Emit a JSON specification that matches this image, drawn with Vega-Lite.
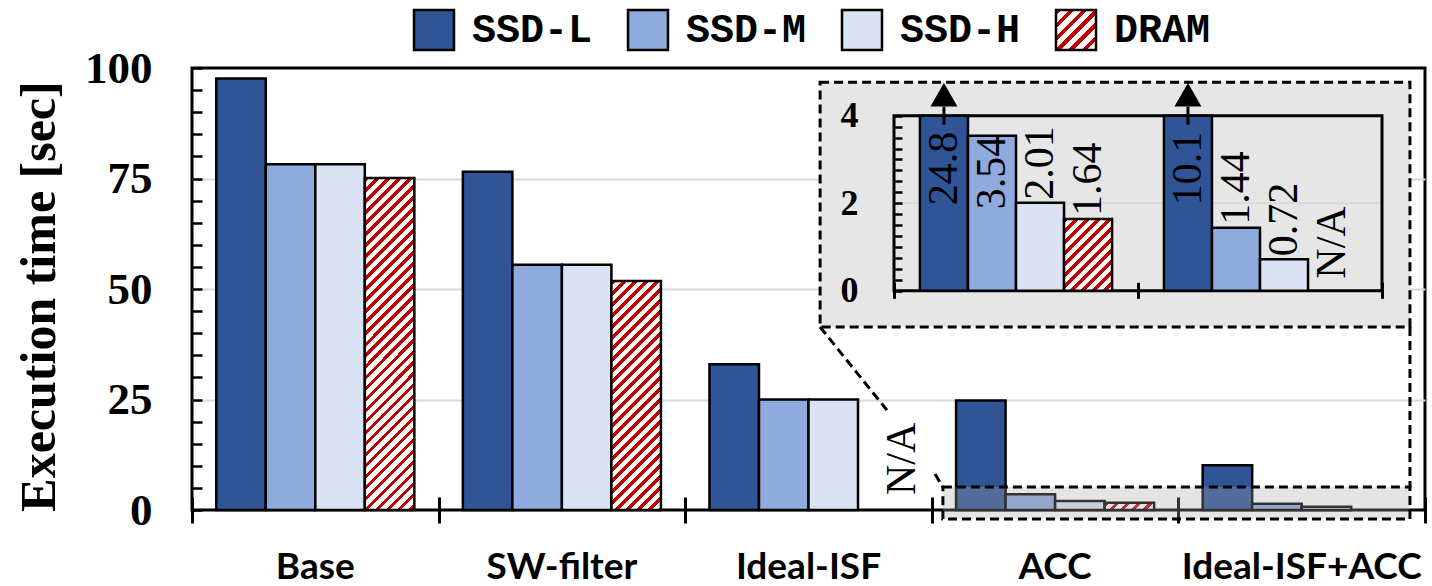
{
  "$schema": "https://vega.github.io/schema/vega-lite/v6.json",
  "width": 1233,
  "height": 442,
  "autosize": {"type": "none"},
  "padding": {"left": 192, "top": 68, "right": 7, "bottom": 76},
  "background": "white",
  "config": {"view": {"stroke": "black", "strokeWidth": 3}},
  "data": {"values": [
    {"group": "Base", "series": "SSD-L", "value": 97.6},
    {"group": "Base", "series": "SSD-M", "value": 78.2},
    {"group": "Base", "series": "SSD-H", "value": 78.2},
    {"group": "Base", "series": "DRAM", "value": 75.1},
    {"group": "SW-filter", "series": "SSD-L", "value": 76.5},
    {"group": "SW-filter", "series": "SSD-M", "value": 55.5},
    {"group": "SW-filter", "series": "SSD-H", "value": 55.5},
    {"group": "SW-filter", "series": "DRAM", "value": 51.8},
    {"group": "Ideal-ISF", "series": "SSD-L", "value": 33.0},
    {"group": "Ideal-ISF", "series": "SSD-M", "value": 25.0},
    {"group": "Ideal-ISF", "series": "SSD-H", "value": 25.0},
    {"group": "Ideal-ISF", "series": "DRAM", "value": null},
    {"group": "ACC", "series": "SSD-L", "value": 24.8},
    {"group": "ACC", "series": "SSD-M", "value": 3.54},
    {"group": "ACC", "series": "SSD-H", "value": 2.01},
    {"group": "ACC", "series": "DRAM", "value": 1.64},
    {"group": "Ideal-ISF+ACC", "series": "SSD-L", "value": 10.1},
    {"group": "Ideal-ISF+ACC", "series": "SSD-M", "value": 1.44},
    {"group": "Ideal-ISF+ACC", "series": "SSD-H", "value": 0.72},
    {"group": "Ideal-ISF+ACC", "series": "DRAM", "value": null}
  ]},
  "layer": [
    {
      "encoding": {
        "x": {"field": "group", "type": "nominal", "title": null,
          "scale": {"domain": ["Base", "SW-filter", "Ideal-ISF", "ACC", "Ideal-ISF+ACC"], "paddingInner": 0, "paddingOuter": 0},
          "axis": {"orient": "bottom", "domain": false, "ticks": false, "tickSize": 0, "offset": 0, "labelFont": "Lato", "labelFontWeight": "bold", "labelFontSize": 37, "labelColor": "black", "labelPadding": 39, "labelAngle": 0, "labelLimit": 400, "grid": false}},
        "xOffset": {"field": "series", "type": "nominal",
          "scale": {"domain": ["SSD-L", "SSD-M", "SSD-H", "DRAM"], "paddingInner": 0, "paddingOuter": 0.49}},
        "y": {"field": "value", "type": "quantitative", "title": "Execution time [sec]",
          "scale": {"domain": [0, 100], "nice": false},
          "axis": {"orient": "left", "values": [0, 25, 50, 75, 100],
            "ticks": false, "tickSize": 0, "domain": false,
            "labelFont": "Liberation Serif", "labelFontWeight": "bold", "labelFontSize": 45, "labelColor": "black", "labelPadding": 40,
            "labelOverlap": false, "labelBound": false, "labelFlush": false,
            "grid": true, "gridColor": "#d9d9d9", "gridWidth": 2,
            "gridOpacity": {"condition": {"test": "datum.value > 0 && datum.value < 100", "value": 1}, "value": 0},
            "titleFont": "Liberation Serif", "titleFontWeight": "bold", "titleFontSize": 50, "titleColor": "black",
            "titleX": -153, "titleY": 228, "titleAngle": 270, "titleBaseline": "middle", "titleAlign": "center"}}
      },
      "layer": [
        {
          "transform": [{"filter": "datum.series !== 'DRAM' && datum.value != null"}],
          "mark": {"type": "bar", "stroke": "black", "strokeWidth": 2.5},
          "encoding": {
            "color": {"field": "series", "type": "nominal", "legend": null,
              "scale": {"domain": ["SSD-L", "SSD-M", "SSD-H", "DRAM"], "range": ["#2f5597", "#8faadc", "#dae3f3", "#ffffff"]}}
          }
        },
        {
          "transform": [{"filter": "datum.series === 'DRAM' && datum.group === 'Base'"}],
          "mark": {"type": "bar", "stroke": "black", "strokeWidth": 2.5,
            "fill": {"gradient": "linear", "x1": 0, "y1": 0, "x2": 0.1744, "y2": 1.1678, "stops": [
{"offset":0,"color":"#c00000"},{"offset":0.0117,"color":"#c00000"},{"offset":0.0117,"color":"#fff"},{"offset":0.0278,"color":"#fff"},
{"offset":0.0278,"color":"#c00000"},{"offset":0.0394,"color":"#c00000"},{"offset":0.0394,"color":"#fff"},{"offset":0.0556,"color":"#fff"},
{"offset":0.0556,"color":"#c00000"},{"offset":0.0672,"color":"#c00000"},{"offset":0.0672,"color":"#fff"},{"offset":0.0833,"color":"#fff"},
{"offset":0.0833,"color":"#c00000"},{"offset":0.095,"color":"#c00000"},{"offset":0.095,"color":"#fff"},{"offset":0.1111,"color":"#fff"},
{"offset":0.1111,"color":"#c00000"},{"offset":0.1228,"color":"#c00000"},{"offset":0.1228,"color":"#fff"},{"offset":0.1389,"color":"#fff"},
{"offset":0.1389,"color":"#c00000"},{"offset":0.1506,"color":"#c00000"},{"offset":0.1506,"color":"#fff"},{"offset":0.1667,"color":"#fff"},
{"offset":0.1667,"color":"#c00000"},{"offset":0.1783,"color":"#c00000"},{"offset":0.1783,"color":"#fff"},{"offset":0.1944,"color":"#fff"},
{"offset":0.1944,"color":"#c00000"},{"offset":0.2061,"color":"#c00000"},{"offset":0.2061,"color":"#fff"},{"offset":0.2222,"color":"#fff"},
{"offset":0.2222,"color":"#c00000"},{"offset":0.2339,"color":"#c00000"},{"offset":0.2339,"color":"#fff"},{"offset":0.25,"color":"#fff"},
{"offset":0.25,"color":"#c00000"},{"offset":0.2617,"color":"#c00000"},{"offset":0.2617,"color":"#fff"},{"offset":0.2778,"color":"#fff"},
{"offset":0.2778,"color":"#c00000"},{"offset":0.2894,"color":"#c00000"},{"offset":0.2894,"color":"#fff"},{"offset":0.3056,"color":"#fff"},
{"offset":0.3056,"color":"#c00000"},{"offset":0.3172,"color":"#c00000"},{"offset":0.3172,"color":"#fff"},{"offset":0.3333,"color":"#fff"},
{"offset":0.3333,"color":"#c00000"},{"offset":0.345,"color":"#c00000"},{"offset":0.345,"color":"#fff"},{"offset":0.3611,"color":"#fff"},
{"offset":0.3611,"color":"#c00000"},{"offset":0.3728,"color":"#c00000"},{"offset":0.3728,"color":"#fff"},{"offset":0.3889,"color":"#fff"},
{"offset":0.3889,"color":"#c00000"},{"offset":0.4006,"color":"#c00000"},{"offset":0.4006,"color":"#fff"},{"offset":0.4167,"color":"#fff"},
{"offset":0.4167,"color":"#c00000"},{"offset":0.4283,"color":"#c00000"},{"offset":0.4283,"color":"#fff"},{"offset":0.4444,"color":"#fff"},
{"offset":0.4444,"color":"#c00000"},{"offset":0.4561,"color":"#c00000"},{"offset":0.4561,"color":"#fff"},{"offset":0.4722,"color":"#fff"},
{"offset":0.4722,"color":"#c00000"},{"offset":0.4839,"color":"#c00000"},{"offset":0.4839,"color":"#fff"},{"offset":0.5,"color":"#fff"},
{"offset":0.5,"color":"#c00000"},{"offset":0.5117,"color":"#c00000"},{"offset":0.5117,"color":"#fff"},{"offset":0.5278,"color":"#fff"},
{"offset":0.5278,"color":"#c00000"},{"offset":0.5394,"color":"#c00000"},{"offset":0.5394,"color":"#fff"},{"offset":0.5556,"color":"#fff"},
{"offset":0.5556,"color":"#c00000"},{"offset":0.5672,"color":"#c00000"},{"offset":0.5672,"color":"#fff"},{"offset":0.5833,"color":"#fff"},
{"offset":0.5833,"color":"#c00000"},{"offset":0.595,"color":"#c00000"},{"offset":0.595,"color":"#fff"},{"offset":0.6111,"color":"#fff"},
{"offset":0.6111,"color":"#c00000"},{"offset":0.6228,"color":"#c00000"},{"offset":0.6228,"color":"#fff"},{"offset":0.6389,"color":"#fff"},
{"offset":0.6389,"color":"#c00000"},{"offset":0.6506,"color":"#c00000"},{"offset":0.6506,"color":"#fff"},{"offset":0.6667,"color":"#fff"},
{"offset":0.6667,"color":"#c00000"},{"offset":0.6783,"color":"#c00000"},{"offset":0.6783,"color":"#fff"},{"offset":0.6944,"color":"#fff"},
{"offset":0.6944,"color":"#c00000"},{"offset":0.7061,"color":"#c00000"},{"offset":0.7061,"color":"#fff"},{"offset":0.7222,"color":"#fff"},
{"offset":0.7222,"color":"#c00000"},{"offset":0.7339,"color":"#c00000"},{"offset":0.7339,"color":"#fff"},{"offset":0.75,"color":"#fff"},
{"offset":0.75,"color":"#c00000"},{"offset":0.7617,"color":"#c00000"},{"offset":0.7617,"color":"#fff"},{"offset":0.7778,"color":"#fff"},
{"offset":0.7778,"color":"#c00000"},{"offset":0.7894,"color":"#c00000"},{"offset":0.7894,"color":"#fff"},{"offset":0.8056,"color":"#fff"},
{"offset":0.8056,"color":"#c00000"},{"offset":0.8172,"color":"#c00000"},{"offset":0.8172,"color":"#fff"},{"offset":0.8333,"color":"#fff"},
{"offset":0.8333,"color":"#c00000"},{"offset":0.845,"color":"#c00000"},{"offset":0.845,"color":"#fff"},{"offset":0.8611,"color":"#fff"},
{"offset":0.8611,"color":"#c00000"},{"offset":0.8728,"color":"#c00000"},{"offset":0.8728,"color":"#fff"},{"offset":0.8889,"color":"#fff"},
{"offset":0.8889,"color":"#c00000"},{"offset":0.9006,"color":"#c00000"},{"offset":0.9006,"color":"#fff"},{"offset":0.9167,"color":"#fff"},
{"offset":0.9167,"color":"#c00000"},{"offset":0.9283,"color":"#c00000"},{"offset":0.9283,"color":"#fff"},{"offset":0.9444,"color":"#fff"},
{"offset":0.9444,"color":"#c00000"},{"offset":0.9561,"color":"#c00000"},{"offset":0.9561,"color":"#fff"},{"offset":0.9722,"color":"#fff"},
{"offset":0.9722,"color":"#c00000"},{"offset":0.9839,"color":"#c00000"},{"offset":0.9839,"color":"#fff"},{"offset":1,"color":"#fff"}
            ]}}
        },
        {
          "transform": [{"filter": "datum.series === 'DRAM' && datum.group === 'SW-filter'"}],
          "mark": {"type": "bar", "stroke": "black", "strokeWidth": 2.5,
            "fill": {"gradient": "linear", "x1": 0, "y1": 0, "x2": 0.3578, "y2": 1.6533, "stops": [
{"offset":0,"color":"#c00000"},{"offset":0.0117,"color":"#c00000"},{"offset":0.0117,"color":"#fff"},{"offset":0.0278,"color":"#fff"},
{"offset":0.0278,"color":"#c00000"},{"offset":0.0394,"color":"#c00000"},{"offset":0.0394,"color":"#fff"},{"offset":0.0556,"color":"#fff"},
{"offset":0.0556,"color":"#c00000"},{"offset":0.0672,"color":"#c00000"},{"offset":0.0672,"color":"#fff"},{"offset":0.0833,"color":"#fff"},
{"offset":0.0833,"color":"#c00000"},{"offset":0.095,"color":"#c00000"},{"offset":0.095,"color":"#fff"},{"offset":0.1111,"color":"#fff"},
{"offset":0.1111,"color":"#c00000"},{"offset":0.1228,"color":"#c00000"},{"offset":0.1228,"color":"#fff"},{"offset":0.1389,"color":"#fff"},
{"offset":0.1389,"color":"#c00000"},{"offset":0.1506,"color":"#c00000"},{"offset":0.1506,"color":"#fff"},{"offset":0.1667,"color":"#fff"},
{"offset":0.1667,"color":"#c00000"},{"offset":0.1783,"color":"#c00000"},{"offset":0.1783,"color":"#fff"},{"offset":0.1944,"color":"#fff"},
{"offset":0.1944,"color":"#c00000"},{"offset":0.2061,"color":"#c00000"},{"offset":0.2061,"color":"#fff"},{"offset":0.2222,"color":"#fff"},
{"offset":0.2222,"color":"#c00000"},{"offset":0.2339,"color":"#c00000"},{"offset":0.2339,"color":"#fff"},{"offset":0.25,"color":"#fff"},
{"offset":0.25,"color":"#c00000"},{"offset":0.2617,"color":"#c00000"},{"offset":0.2617,"color":"#fff"},{"offset":0.2778,"color":"#fff"},
{"offset":0.2778,"color":"#c00000"},{"offset":0.2894,"color":"#c00000"},{"offset":0.2894,"color":"#fff"},{"offset":0.3056,"color":"#fff"},
{"offset":0.3056,"color":"#c00000"},{"offset":0.3172,"color":"#c00000"},{"offset":0.3172,"color":"#fff"},{"offset":0.3333,"color":"#fff"},
{"offset":0.3333,"color":"#c00000"},{"offset":0.345,"color":"#c00000"},{"offset":0.345,"color":"#fff"},{"offset":0.3611,"color":"#fff"},
{"offset":0.3611,"color":"#c00000"},{"offset":0.3728,"color":"#c00000"},{"offset":0.3728,"color":"#fff"},{"offset":0.3889,"color":"#fff"},
{"offset":0.3889,"color":"#c00000"},{"offset":0.4006,"color":"#c00000"},{"offset":0.4006,"color":"#fff"},{"offset":0.4167,"color":"#fff"},
{"offset":0.4167,"color":"#c00000"},{"offset":0.4283,"color":"#c00000"},{"offset":0.4283,"color":"#fff"},{"offset":0.4444,"color":"#fff"},
{"offset":0.4444,"color":"#c00000"},{"offset":0.4561,"color":"#c00000"},{"offset":0.4561,"color":"#fff"},{"offset":0.4722,"color":"#fff"},
{"offset":0.4722,"color":"#c00000"},{"offset":0.4839,"color":"#c00000"},{"offset":0.4839,"color":"#fff"},{"offset":0.5,"color":"#fff"},
{"offset":0.5,"color":"#c00000"},{"offset":0.5117,"color":"#c00000"},{"offset":0.5117,"color":"#fff"},{"offset":0.5278,"color":"#fff"},
{"offset":0.5278,"color":"#c00000"},{"offset":0.5394,"color":"#c00000"},{"offset":0.5394,"color":"#fff"},{"offset":0.5556,"color":"#fff"},
{"offset":0.5556,"color":"#c00000"},{"offset":0.5672,"color":"#c00000"},{"offset":0.5672,"color":"#fff"},{"offset":0.5833,"color":"#fff"},
{"offset":0.5833,"color":"#c00000"},{"offset":0.595,"color":"#c00000"},{"offset":0.595,"color":"#fff"},{"offset":0.6111,"color":"#fff"},
{"offset":0.6111,"color":"#c00000"},{"offset":0.6228,"color":"#c00000"},{"offset":0.6228,"color":"#fff"},{"offset":0.6389,"color":"#fff"},
{"offset":0.6389,"color":"#c00000"},{"offset":0.6506,"color":"#c00000"},{"offset":0.6506,"color":"#fff"},{"offset":0.6667,"color":"#fff"},
{"offset":0.6667,"color":"#c00000"},{"offset":0.6783,"color":"#c00000"},{"offset":0.6783,"color":"#fff"},{"offset":0.6944,"color":"#fff"},
{"offset":0.6944,"color":"#c00000"},{"offset":0.7061,"color":"#c00000"},{"offset":0.7061,"color":"#fff"},{"offset":0.7222,"color":"#fff"}
            ]}}
        },
        {
          "transform": [{"filter": "datum.series === 'DRAM' && datum.group === 'ACC'"}],
          "mark": {"type": "bar", "stroke": "black", "strokeWidth": 2.5,
            "fill": {"gradient": "linear", "x1": 0, "y1": 0, "x2": 7.83, "y2": 1.145, "stops": [
{"offset":0,"color":"#c00000"},{"offset":0.0117,"color":"#c00000"},{"offset":0.0117,"color":"#fff"},{"offset":0.0278,"color":"#fff"},
{"offset":0.0278,"color":"#c00000"},{"offset":0.0394,"color":"#c00000"},{"offset":0.0394,"color":"#fff"},{"offset":0.0556,"color":"#fff"},
{"offset":0.0556,"color":"#c00000"},{"offset":0.0672,"color":"#c00000"},{"offset":0.0672,"color":"#fff"},{"offset":0.0833,"color":"#fff"},
{"offset":0.0833,"color":"#c00000"},{"offset":0.095,"color":"#c00000"},{"offset":0.095,"color":"#fff"},{"offset":0.1111,"color":"#fff"},
{"offset":0.1111,"color":"#c00000"},{"offset":0.1228,"color":"#c00000"},{"offset":0.1228,"color":"#fff"},{"offset":0.1389,"color":"#fff"},
{"offset":0.1389,"color":"#c00000"},{"offset":0.1506,"color":"#c00000"},{"offset":0.1506,"color":"#fff"},{"offset":0.1667,"color":"#fff"}
            ]}}
        },
        {
          "transform": [{"filter": "datum.group === 'Ideal-ISF' && datum.series === 'DRAM'"}],
          "mark": {"type": "text", "angle": 270, "align": "left", "baseline": "middle", "font": "Liberation Serif", "fontSize": 42, "color": "black", "dx": 15, "dy": 19, "invalid": "show"},
          "encoding": {"y": {"datum": 0}, "text": {"value": "N/A"}}
        }
      ]
    },
    {
      "data": {"values": [{}]},
      "encoding": {
        "x": {"datum": 0, "type": "quantitative", "scale": {"domain": [0, 5], "nice": false, "zero": false},
          "axis": {"orient": "bottom", "offset": -13, "values": [0, 1, 2, 3, 4, 5], "domain": false, "labels": false, "tickSize": 26, "tickWidth": 3, "tickColor": "black", "grid": false, "title": null}},
        "y": {"datum": 0, "type": "quantitative", "scale": {"domain": [0, 100], "nice": false},
          "axis": {"orient": "right", "offset": -1233, "values": [0,5,10,15,20,25,30,35,40,45,50,55,60,65,70,75,80,85,90,95,100], "domain": false, "labels": false, "tickSize": 10, "tickWidth": 2.5, "tickColor": "black", "grid": false, "title": null}}
      },
      "layer": [
        {
          "mark": {"type": "rect", "fill": "#a6a6a6", "fillOpacity": 0.3, "stroke": "black", "strokeWidth": 3, "strokeDash": [9, 5]},
          "encoding": {"x": {"datum": 3.045}, "x2": {"datum": 4.939}, "y": {"datum": -2.04}, "y2": {"datum": 5.2}}
        },
        {
          "mark": {"type": "rect", "fill": "#e7e6e6", "stroke": "black", "strokeWidth": 3, "strokeDash": [9, 5]},
          "encoding": {"x": {"datum": 2.547}, "x2": {"datum": 4.939}, "y": {"datum": 41.4}, "y2": {"datum": 96.8}}
        },
        {
          "mark": {"type": "rule", "stroke": "black", "strokeWidth": 3, "strokeDash": [9, 5]},
          "encoding": {"x": {"datum": 2.547}, "x2": {"datum": 2.818}, "y": {"datum": 41.4}, "y2": {"datum": 22.6}}
        },
        {
          "mark": {"type": "rule", "stroke": "black", "strokeWidth": 3, "strokeDash": [9, 5]},
          "encoding": {"x": {"datum": 3.013}, "x2": {"datum": 3.045}, "y": {"datum": 8.14}, "y2": {"datum": 5.2}}
        },
        {
          "mark": {"type": "rule", "stroke": "black", "strokeWidth": 3, "strokeDash": [9, 5]},
          "encoding": {"x": {"datum": 4.939}, "y": {"datum": 41.4}, "y2": {"datum": 5.2}}
        }
      ]
    },
    {
      "data": {"values": [{}]},
      "encoding": {
        "x": {"datum": 0, "type": "quantitative", "scale": {"domain": [0, 2], "range": [702, 1190], "nice": false, "zero": false},
          "axis": {"orient": "bottom", "offset": -227.7, "values": [0, 1, 2], "domain": false, "labels": false, "tickSize": 16, "tickWidth": 3, "tickColor": "black", "grid": false, "title": null, "zindex": 1}},
        "y": {"datum": 0, "type": "quantitative", "scale": {"domain": [0, 4], "range": [222.7, 47.7], "nice": false},
          "axis": {"orient": "right", "offset": -531, "values": [0,0.25,0.5,0.75,1,1.25,1.5,1.75,2,2.25,2.5,2.75,3,3.25,3.5,3.75,4], "domain": false, "labels": false, "tickSize": 8, "tickWidth": 2.5, "tickColor": "black", "grid": false, "title": null, "zindex": 1}}
      },
      "layer": [
        {
          "mark": {"type": "rule", "stroke": "#d9d9d9", "strokeWidth": 2},
          "encoding": {"x": {"datum": 0}, "x2": {"datum": 2}, "y": {"datum": 2}}
        },
        {
          "mark": {"type": "rect", "fillOpacity": 0, "fill": "white", "stroke": "black", "strokeWidth": 3},
          "encoding": {"x": {"datum": 0}, "x2": {"datum": 2}, "y": {"datum": 0}, "y2": {"datum": 4}}
        }
      ]
    },
    {
      "transform": [{"filter": "datum.group === 'ACC' || datum.group === 'Ideal-ISF+ACC'"}],
      "encoding": {
        "x": {"field": "group", "type": "nominal", "title": null, "axis": null,
          "scale": {"domain": ["ACC", "Ideal-ISF+ACC"], "range": [702, 1190], "paddingInner": 0, "paddingOuter": 0}},
        "xOffset": {"field": "series", "type": "nominal", "scale": {"domain": ["SSD-L", "SSD-M", "SSD-H", "DRAM"], "paddingInner": 0, "paddingOuter": 0.54}},
        "y": {"field": "value", "type": "quantitative", "title": null,
          "scale": {"domain": [0, 4], "range": [222.7, 47.7], "nice": false, "clamp": true},
          "axis": {"orient": "left", "offset": -702, "values": [0, 2, 4], "format": "d",
            "ticks": false, "tickSize": 0, "domain": false,
            "labelFont": "Liberation Serif", "labelFontWeight": "bold", "labelFontSize": 36, "labelColor": "black", "labelPadding": 36,
            "labelOverlap": false, "labelBound": false, "labelFlush": false, "grid": false, "zindex": 1}}
      },
      "layer": [
        {
          "transform": [{"filter": "datum.series !== 'DRAM' && datum.value != null"}],
          "mark": {"type": "bar", "stroke": "black", "strokeWidth": 2.5},
          "encoding": {"color": {"field": "series", "type": "nominal", "legend": null}}
        },
        {
          "transform": [{"filter": "datum.series === 'DRAM' && datum.group === 'ACC'"}],
          "mark": {"type": "bar", "stroke": "black", "strokeWidth": 2.5,
            "fill": {"gradient": "linear", "x1": 0, "y1": 0, "x2": 2.551, "y2": 3.811, "stops": [
{"offset":0,"color":"#c00000"},{"offset":0.0117,"color":"#c00000"},{"offset":0.0117,"color":"#fff"},{"offset":0.0278,"color":"#fff"},
{"offset":0.0278,"color":"#c00000"},{"offset":0.0394,"color":"#c00000"},{"offset":0.0394,"color":"#fff"},{"offset":0.0556,"color":"#fff"},
{"offset":0.0556,"color":"#c00000"},{"offset":0.0672,"color":"#c00000"},{"offset":0.0672,"color":"#fff"},{"offset":0.0833,"color":"#fff"},
{"offset":0.0833,"color":"#c00000"},{"offset":0.095,"color":"#c00000"},{"offset":0.095,"color":"#fff"},{"offset":0.1111,"color":"#fff"},
{"offset":0.1111,"color":"#c00000"},{"offset":0.1228,"color":"#c00000"},{"offset":0.1228,"color":"#fff"},{"offset":0.1389,"color":"#fff"},
{"offset":0.1389,"color":"#c00000"},{"offset":0.1506,"color":"#c00000"},{"offset":0.1506,"color":"#fff"},{"offset":0.1667,"color":"#fff"},
{"offset":0.1667,"color":"#c00000"},{"offset":0.1783,"color":"#c00000"},{"offset":0.1783,"color":"#fff"},{"offset":0.1944,"color":"#fff"},
{"offset":0.1944,"color":"#c00000"},{"offset":0.2061,"color":"#c00000"},{"offset":0.2061,"color":"#fff"},{"offset":0.2222,"color":"#fff"},
{"offset":0.2222,"color":"#c00000"},{"offset":0.2339,"color":"#c00000"},{"offset":0.2339,"color":"#fff"},{"offset":0.25,"color":"#fff"},
{"offset":0.25,"color":"#c00000"},{"offset":0.2617,"color":"#c00000"},{"offset":0.2617,"color":"#fff"},{"offset":0.2778,"color":"#fff"},
{"offset":0.2778,"color":"#c00000"},{"offset":0.2894,"color":"#c00000"},{"offset":0.2894,"color":"#fff"},{"offset":0.3056,"color":"#fff"}
            ]}}
        },
        {
          "transform": [{"filter": "datum.value > 4"}],
          "mark": {"type": "rule", "stroke": "black", "strokeWidth": 3, "yOffset": 9, "y2Offset": -9},
          "encoding": {"y": {"datum": 4}, "y2": {"datum": 4}}
        },
        {
          "transform": [{"filter": "datum.value > 4"}],
          "mark": {"type": "point", "shape": "triangle-up", "filled": true, "color": "black", "opacity": 1, "size": 729, "yOffset": -21},
          "encoding": {"y": {"datum": 4}}
        },
        {
          "transform": [{"filter": "datum.value > 4"}],
          "mark": {"type": "text", "angle": 270, "align": "right", "baseline": "middle", "font": "Liberation Serif", "fontSize": 42, "color": "black", "dx": -16},
          "encoding": {"text": {"field": "value", "type": "nominal"}}
        },
        {
          "transform": [{"filter": "datum.value > 3 && datum.value <= 4"}],
          "mark": {"type": "text", "angle": 270, "align": "right", "baseline": "middle", "font": "Liberation Serif", "fontSize": 42, "color": "black", "dx": 0},
          "encoding": {"text": {"field": "value", "type": "nominal"}}
        },
        {
          "transform": [{"filter": "datum.value != null && datum.value <= 3"}],
          "mark": {"type": "text", "angle": 270, "align": "left", "baseline": "middle", "font": "Liberation Serif", "fontSize": 42, "color": "black", "dx": 3},
          "encoding": {"text": {"field": "value", "type": "nominal"}}
        },
        {
          "transform": [{"filter": "datum.value == null"}],
          "mark": {"type": "text", "angle": 270, "align": "left", "baseline": "middle", "font": "Liberation Serif", "fontSize": 42, "color": "black", "dx": 12, "invalid": "show"},
          "encoding": {"y": {"datum": 0}, "text": {"value": "N/A"}}
        }
      ]
    },
    {
      "transform": [{"filter": "datum.group === 'Base'"}],
      "encoding": {
        "x": {"field": "series", "type": "nominal", "axis": null,
          "scale": {"domain": ["SSD-L", "SSD-M", "SSD-H", "DRAM"], "range": [135, 991], "paddingInner": 0, "paddingOuter": 0}},
        "y": {"datum": 0, "type": "quantitative", "axis": null, "scale": {"domain": [0, 1], "range": [-18, -58], "nice": false, "zero": false}}
      },
      "layer": [
        {
          "transform": [{"filter": "datum.series !== 'DRAM'"}],
          "mark": {"type": "bar", "width": 40, "stroke": "black", "strokeWidth": 2.5},
          "encoding": {"y": {"datum": 0}, "y2": {"datum": 1}, "color": {"field": "series", "type": "nominal", "legend": null}}
        },
        {
          "transform": [{"filter": "datum.series === 'DRAM'"}],
          "mark": {"type": "bar", "width": 40, "stroke": "black", "strokeWidth": 2.5,
            "fill": {"gradient": "linear", "x1": 0, "y1": 0, "x2": 5.85, "y2": 5.85, "stops": [
{"offset":0,"color":"#c00000"},{"offset":0.0117,"color":"#c00000"},{"offset":0.0117,"color":"#fff"},{"offset":0.0278,"color":"#fff"},
{"offset":0.0278,"color":"#c00000"},{"offset":0.0394,"color":"#c00000"},{"offset":0.0394,"color":"#fff"},{"offset":0.0556,"color":"#fff"},
{"offset":0.0556,"color":"#c00000"},{"offset":0.0672,"color":"#c00000"},{"offset":0.0672,"color":"#fff"},{"offset":0.0833,"color":"#fff"},
{"offset":0.0833,"color":"#c00000"},{"offset":0.095,"color":"#c00000"},{"offset":0.095,"color":"#fff"},{"offset":0.1111,"color":"#fff"},
{"offset":0.1111,"color":"#c00000"},{"offset":0.1228,"color":"#c00000"},{"offset":0.1228,"color":"#fff"},{"offset":0.1389,"color":"#fff"},
{"offset":0.1389,"color":"#c00000"},{"offset":0.1506,"color":"#c00000"},{"offset":0.1506,"color":"#fff"},{"offset":0.1667,"color":"#fff"},
{"offset":0.1667,"color":"#c00000"},{"offset":0.1783,"color":"#c00000"},{"offset":0.1783,"color":"#fff"},{"offset":0.1944,"color":"#fff"}
            ]}},
          "encoding": {"y": {"datum": 0}, "y2": {"datum": 1}}
        },
        {
          "mark": {"type": "text", "align": "left", "baseline": "middle", "dx": 38, "font": "Liberation Mono", "fontWeight": "bold", "fontSize": 40, "color": "black"},
          "encoding": {"y": {"datum": 0.5}, "text": {"field": "series", "type": "nominal"}}
        }
      ]
    }
  ],
  "resolve": {
    "scale": {"x": "independent", "y": "independent", "xOffset": "independent"},
    "axis": {"x": "independent", "y": "independent"}
  }
}
